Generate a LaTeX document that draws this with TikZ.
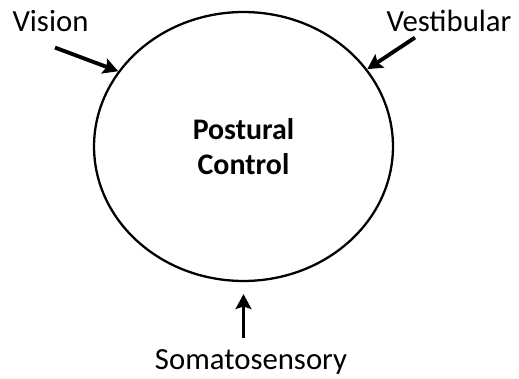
\documentclass[tikz,border=0pt]{standalone}
\usepackage{fontspec}
\setmainfont{Carlito}
\usetikzlibrary{shapes.geometric,arrows.meta}

\tikzset{
    sense/.style={font=\fontsize{17.5}{21}\selectfont, inner sep=0pt, anchor=base},
    inflow/.style={-{Stealth[length=8.5pt,width=9pt,inset=1.5pt]}, line width=2.2pt},
}

\begin{document}
\begin{tikzpicture}[x=0.02cm,y=-0.02cm]
        % 1. Frame of the picture
        \useasboundingbox (0,0) rectangle (519,378);

        % 2. The postural control system
        \node[ellipse, draw, line width=1.3pt, inner sep=0pt, minimum width=5.98cm, minimum height=5.38cm,
              align=center, font=\fontsize{17}{20}\selectfont\bfseries] (control) at (243.5,146.5)
              {Postural\\Control};

        % 3. Sensory inputs
        \node[sense] (vision) at (50.5,32) {Vision};
        \node[sense] (vestibular) at (449,32) {Vestibular};
        \node[sense] (somato) at (251,369) {Somatosensory};

        % 4. Arrows into the circle
        \draw[inflow] ([xshift=0.09cm,yshift=-0.3cm]vision.south) -- (control.149);
        \draw[inflow] ([xshift=-0.68cm,yshift=-0.1cm]vestibular.south) -- (control.32);
        \draw[inflow] ([yshift=0.22cm]somato.north -| control.south) -- ([yshift=-0.24cm]control.south);

    \end{tikzpicture}
\end{document}
